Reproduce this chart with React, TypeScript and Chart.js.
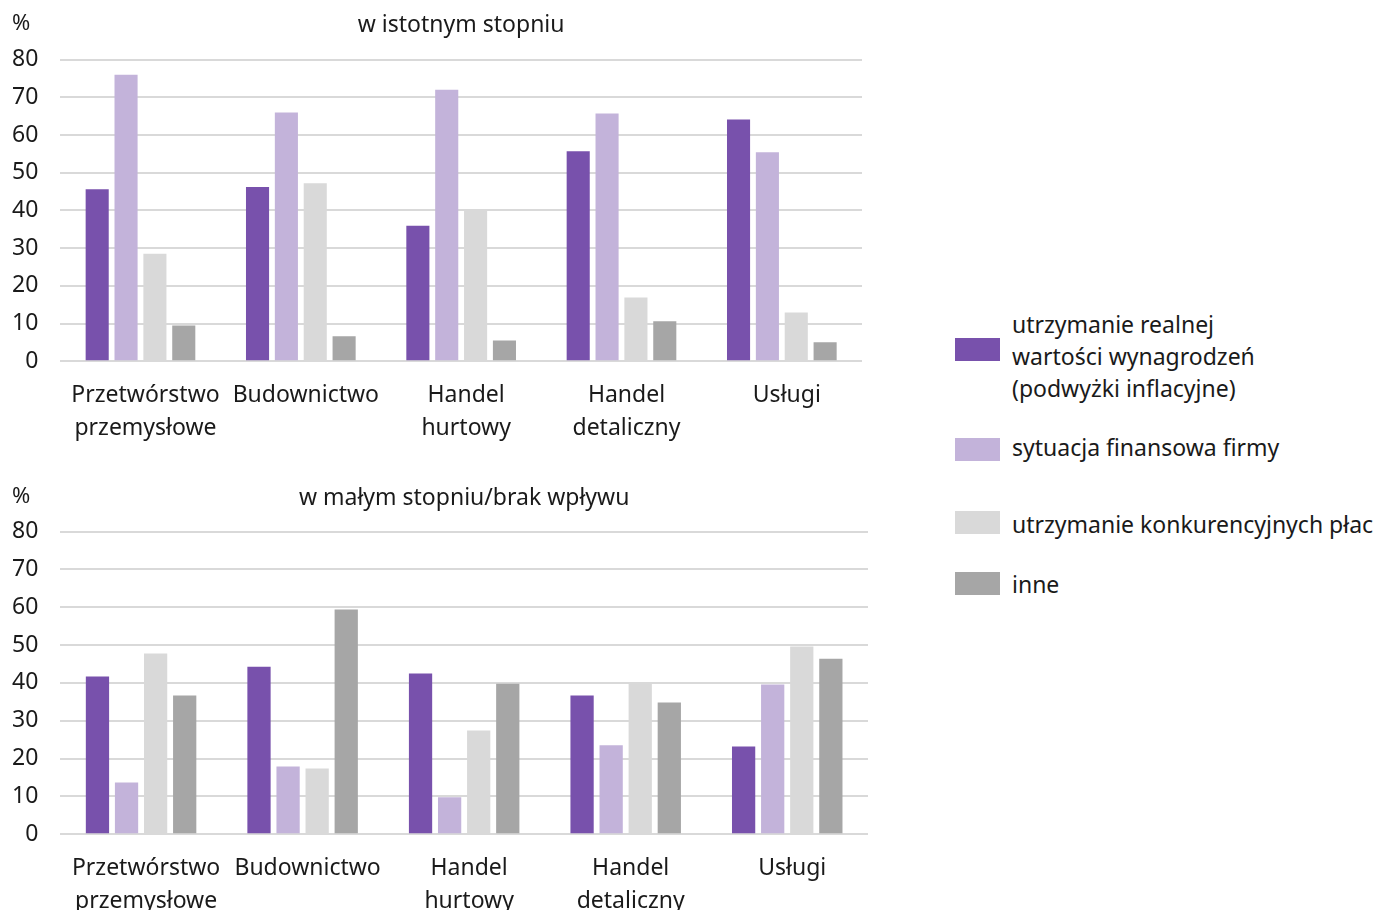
import React, { useEffect, useRef } from "react";
import { Chart, registerables } from "chart.js";

Chart.register(...registerables);

const categories: (string | string[])[] = [
  ["Przetwórstwo", "przemysłowe"],
  "Budownictwo",
  ["Handel", "hurtowy"],
  ["Handel", "detaliczny"],
  "Usługi",
];

const seriesNames: string[] = [
  "utrzymanie realnej wartości wynagrodzeń (podwyżki inflacyjne)",
  "sytuacja finansowa firmy",
  "utrzymanie konkurencyjnych płac",
  "inne",
];
const legendLines: string[][] = [
  ["utrzymanie realnej", "wartości wynagrodzeń", "(podwyżki inflacyjne)"],
  ["sytuacja finansowa firmy"],
  ["utrzymanie konkurencyjnych płac"],
  ["inne"],
];
const seriesColors: string[] = ["#7851AC", "#C3B3DA", "#D9D9D9", "#A6A6A6"];

// w istotnym stopniu
const topRealWages: number[] = [45.6, 46.2, 35.9, 55.7, 64.1];
const topFinancial: number[] = [76.0, 66.0, 72.0, 65.7, 55.4];
const topCompetitive: number[] = [28.5, 47.2, 40.4, 16.9, 12.9];
const topOther: number[] = [9.5, 6.6, 5.5, 10.6, 5.0];

// w małym stopniu / brak wpływu
const botRealWages: number[] = [41.7, 44.3, 42.5, 36.7, 23.2];
const botFinancial: number[] = [13.7, 17.9, 9.8, 23.5, 39.6];
const botCompetitive: number[] = [47.8, 17.4, 27.4, 39.8, 49.6];
const botOther: number[] = [36.7, 59.4, 39.8, 34.8, 46.4];

const yTicks: number[] = [0, 10, 20, 30, 40, 50, 60, 70, 80];

const titleTop = "w istotnym stopniu";
const titleBottom = "w małym stopniu/brak wpływu";

const FONT = "'Noto Sans', sans-serif";
const FS = 23;

type Props = {
  data: number[][];
  title: string;
  width: number;
  height: number;
  padRight: number;
  padBottom: number;
  titlePadTop: number;
  titlePadBottom: number;
};

function BarChart(p: Props) {
  const ref = useRef<HTMLCanvasElement | null>(null);
  useEffect(() => {
    if (!ref.current) return;
    const chart = new Chart(ref.current, {
      type: "bar",
      data: {
        labels: categories,
        datasets: p.data.map((vals, i) => ({
          label: seriesNames[i],
          data: vals,
          backgroundColor: seriesColors[i],
          borderWidth: 0,
          barPercentage: 0.8,
          categoryPercentage: 0.72,
        })),
      },
      options: {
        responsive: false,
        animation: false,
        layout: { padding: { left: 14, right: p.padRight, top: 0, bottom: p.padBottom } },
        plugins: {
          legend: { display: false },
          tooltip: { enabled: false },
          title: {
            display: true,
            text: p.title,
            fullSize: false,
            color: "#1a1a1a",
            font: { family: FONT, size: FS, weight: "normal", lineHeight: 1.2 },
            padding: { top: p.titlePadTop, bottom: p.titlePadBottom },
          },
        },
        scales: {
          x: {
            grid: { display: false },
            border: { display: false },
            ticks: {
              color: "#1a1a1a",
              font: { family: FONT, size: FS, lineHeight: 1.43 },
              padding: 10,
              labelOffset: 5,
              maxRotation: 0,
              autoSkip: false,
            },
          },
          y: {
            min: 0,
            max: 80,
            afterBuildTicks: (axis: any) => {
              axis.ticks = yTicks.map((v) => ({ value: v }));
            },
            grid: { color: "#D9D9D9", lineWidth: 2, drawTicks: false },
            border: { display: false },
            ticks: {
              color: "#1a1a1a",
              font: { family: FONT, size: FS },
              padding: 22,
            },
          },
        },
      },
    });
    return () => chart.destroy();
  }, []);
  return (
    <canvas
      ref={ref}
      width={p.width}
      height={p.height}
      style={{ width: p.width, height: p.height, display: "block" }}
    />
  );
}

const textStyle: React.CSSProperties = {
  position: "absolute",
  fontFamily: FONT,
  fontSize: FS,
  color: "#1a1a1a",
  lineHeight: "32px",
  whiteSpace: "nowrap",
};

const legendSquareTops = [338, 438, 511, 572];
const legendTextTops = [308, 431, 508, 568];

export default function App() {
  return (
    <div
      style={{
        position: "absolute",
        left: 0,
        top: 0,
        width: 1380,
        height: 910,
        background: "#fff",
        overflow: "hidden",
      }}
    >
      <div style={{ position: "absolute", left: -24, top: 0 }}>
        <BarChart
          data={[topRealWages, topFinancial, topCompetitive, topOther]}
          title={titleTop}
          width={904}
          height={469}
          padRight={18}
          padBottom={14}
          titlePadTop={12}
          titlePadBottom={20}
        />
      </div>
      <div style={{ position: "absolute", left: -24, top: 470 }}>
        <BarChart
          data={[botRealWages, botFinancial, botCompetitive, botOther]}
          title={titleBottom}
          width={904}
          height={460}
          padRight={12}
          padBottom={2}
          titlePadTop={15}
          titlePadBottom={19}
        />
      </div>
      <div style={{ ...textStyle, fontSize: 22, left: 12, top: 5 }}>%</div>
      <div style={{ ...textStyle, fontSize: 22, left: 12, top: 478 }}>%</div>
      {legendLines.map((lines, i) => (
        <React.Fragment key={i}>
          <div
            style={{
              position: "absolute",
              left: 955,
              top: legendSquareTops[i],
              width: 45,
              height: 23,
              background: seriesColors[i],
            }}
          />
          <div style={{ ...textStyle, left: 1012, top: legendTextTops[i] }}>
            {lines.map((l, j) => (
              <div key={j}>{l}</div>
            ))}
          </div>
        </React.Fragment>
      ))}
    </div>
  );
}
